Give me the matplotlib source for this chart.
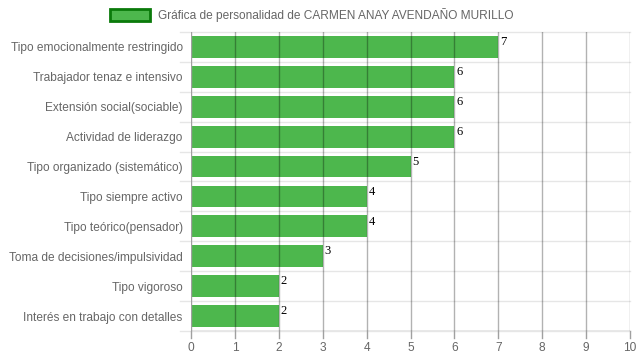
import matplotlib
matplotlib.use("Agg")
import matplotlib.pyplot as plt
from matplotlib.patches import Rectangle

categorias = [
    "Tipo emocionalmente restringido",
    "Trabajador tenaz e intensivo",
    "Extensión social(sociable)",
    "Actividad de liderazgo",
    "Tipo organizado (sistemático)",
    "Tipo siempre activo",
    "Tipo teórico(pensador)",
    "Toma de decisiones/impulsividad",
    "Tipo vigoroso",
    "Interés en trabajo con detalles",
]
valores = [7, 6, 6, 6, 5, 4, 4, 3, 2, 2]
titulo = "Gráfica de personalidad de CARMEN ANAY AVENDAÑO MURILLO"

plt.rcParams["font.family"] = ["Liberation Sans", "DejaVu Sans"]
gris = "#666666"
verde = "#4db74d"

fig = plt.figure(figsize=(6.39, 3.6), dpi=100)
ax = fig.add_axes([191 / 639, 1 - 331 / 360, (630 - 191) / 639, (331 - 32) / 360])

pos = list(range(len(categorias)))
ax.barh(pos, valores, height=0.73, color=verde, zorder=2)
for p, v in zip(pos, valores):
    ax.text(v + 0.04, p - 0.36, str(v), family="Liberation Serif", fontsize=9,
            va="top", ha="left", color="black", zorder=4)

ax.set_xlim(0, 10)
ax.set_ylim(len(categorias) - 0.5, -0.5)
ax.set_xticks(range(11))
ax.set_yticks(pos)
ax.set_yticklabels(categorias)
ax.tick_params(axis="both", colors=gris, labelsize=8.6, length=0)
ax.tick_params(axis="x", pad=8)
ax.tick_params(axis="y", pad=6)

# grid: vertical darker, horizontal lighter at category boundaries
for x in range(1, 11):
    ax.plot([x, x], [len(categorias) - 0.5, -0.5], color="black", alpha=0.3, lw=1, zorder=3)
for b in [i - 0.5 for i in range(len(categorias) + 1)]:
    ax.plot([-0.25, 10], [b, b], color="#e6e6e6", lw=1, zorder=1, clip_on=False)
for x in range(11):
    ax.plot([x, x], [len(categorias) - 0.5, len(categorias) - 0.28],
            color="#a0a0a0", lw=1, clip_on=False, zorder=1)
for s in ax.spines.values():
    s.set_visible(False)
ax.plot([0, 0], [len(categorias) - 0.5, -0.5], color="#a0a0a0", lw=1, zorder=4)
ax.plot([0, 10], [len(categorias) - 0.5, len(categorias) - 0.5], color="#a0a0a0", lw=1, zorder=4)

# legend
fig.patches.append(Rectangle((110 / 639, 1 - 21 / 360), 40 / 639, 12 / 360,
                             transform=fig.transFigure, facecolor=verde,
                             edgecolor="#0a7a0a", lw=2))
fig.text(158 / 639, 1 - 15 / 360, titulo, color=gris, fontsize=8.6, va="center", ha="left")

fig.savefig("out.png", dpi=100)
